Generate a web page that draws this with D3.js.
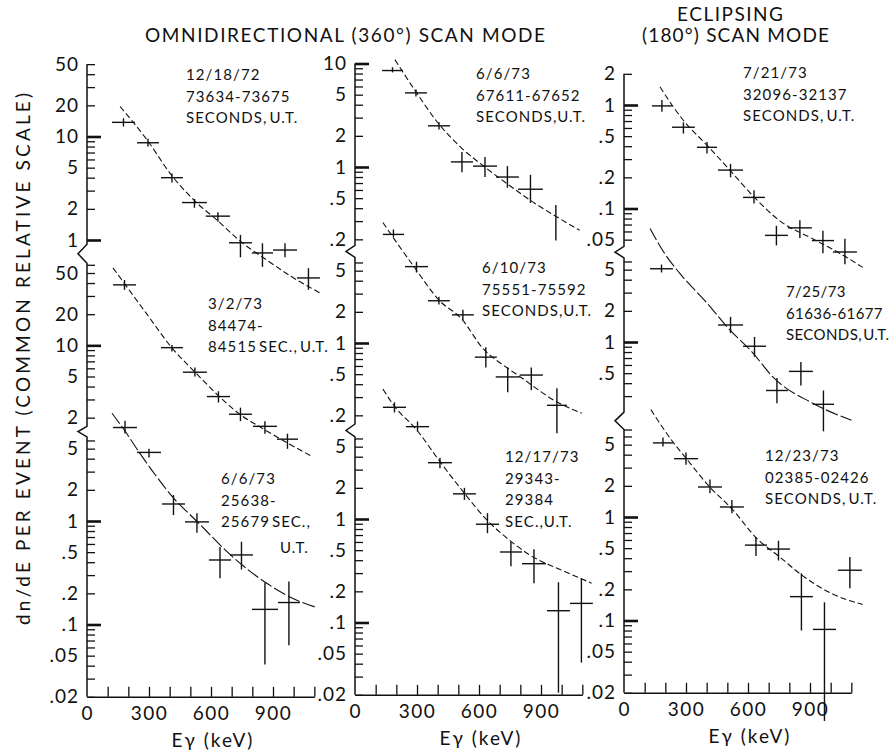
<!DOCTYPE html>
<html>
<head>
<meta charset="utf-8">
<script src="https://cdn.jsdelivr.net/npm/d3@7"></script>
<style>
  body { margin: 0; background: #fff; }
  text { font-family: Lato, "DejaVu Sans", sans-serif; font-weight: 400; fill: #111; }
</style>
</head>
<body>
<svg id="chart"></svg>
<script>
// energy in keV, dn/dE in common relative units
// point: [E low, E high, value, error low, error high]
const pts_121872 = [
  [121, 232, 13.7, 12.5, 15], [242, 348, 8.7, 8.0, 9.5], [358, 464, 4.0, 3.6, 4.4],
  [460, 580, 2.3, 2.05, 2.5], [575, 692, 1.7, 1.5, 1.85], [687, 798, 0.94, 0.68, 1.12],
  [798, 900, 0.75, 0.55, 0.93], [900, 1016, 0.80, 0.68, 0.93], [1016, 1127, 0.43, 0.33, 0.535]
];
const fit_121872 = [[160, 19.5], [290, 9.3], [410, 4.2], [520, 2.4], [630, 1.55], [740, 0.98], [870, 0.64], [1000, 0.43], [1125, 0.31]];

const pts_030273 = [
  [126, 237, 38.4, 34.4, 42.8], [358, 464, 9.5, 8.7, 10.1], [464, 580, 5.5, 5.0, 6.1],
  [580, 692, 3.2, 2.8, 3.6], [687, 798, 2.16, 1.85, 2.5], [803, 919, 1.65, 1.4, 1.85],
  [919, 1021, 1.24, 1.0, 1.4]
];
const fit_030273 = [[126, 56], [290, 20], [410, 9.5], [527, 5.4], [633, 3.3], [734, 2.2], [855, 1.55], [966, 1.15], [1087, 0.85]];

const pts_060673a = [
  [126, 242, 8.0, 7.0, 9.3], [242, 358, 4.6, 4.1, 5.0], [363, 474, 1.46, 1.14, 1.78],
  [474, 590, 0.98, 0.77, 1.19], [590, 697, 0.42, 0.28, 0.56], [692, 803, 0.47, 0.34, 0.63],
  [798, 924, 0.14, 0.041, 0.253], [924, 1030, 0.163, 0.063, 0.26]
];
const fit_060673a = [[121, 11], [184, 7.4], [256, 4.5], [330, 2.8], [415, 1.7], [530, 1.0], [705, 0.45], [870, 0.25], [1029, 0.167], [1111, 0.146]];

const pts_060673b = [
  [131, 232, 8.55, 8.2, 9.2], [242, 348, 5.2, 4.8, 5.6], [353, 460, 2.5, 2.3, 2.7],
  [464, 571, 1.12, 0.89, 1.4], [571, 687, 1.02, 0.80, 1.25], [682, 793, 0.80, 0.63, 1.02],
  [789, 909, 0.61, 0.45, 0.84], [972, 972, 0.305, 0.195, 0.43]
];
const fit_060673b = [[193, 10.9], [290, 5.5], [406, 2.6], [512, 1.55], [628, 1.0], [740, 0.68], [860, 0.46], [976, 0.33], [1087, 0.245]];

const pts_061073 = [
  [135, 237, 11.2, 10.6, 12.5], [242, 353, 5.47, 4.8, 6.1], [353, 459, 2.56, 2.35, 2.8],
  [469, 575, 1.87, 1.67, 2.1], [580, 686, 0.73, 0.58, 0.91], [681, 797, 0.47, 0.335, 0.58],
  [797, 909, 0.49, 0.35, 0.58], [929, 1025, 0.25, 0.134, 0.366]
];
const fit_061073 = [[135, 14.6], [184, 10.5], [290, 5.3], [406, 2.6], [517, 1.7], [618, 0.89], [734, 0.58], [800, 0.47], [976, 0.27], [1097, 0.21]];

const pts_121773 = [
  [135, 247, 12.0, 10.7, 13.4], [247, 358, 7.8, 7.0, 8.75], [353, 469, 3.5, 3.1, 3.9],
  [474, 585, 1.75, 1.53, 2.0], [585, 697, 0.89, 0.73, 1.14], [701, 808, 0.48, 0.35, 0.60],
  [808, 924, 0.37, 0.24, 0.51], [929, 1040, 0.13, 0.021, 0.245], [1040, 1151, 0.153, 0.041, 0.267]
];
const fit_121773 = [[135, 18], [188, 12.5], [300, 7.2], [406, 3.7], [522, 1.85], [638, 0.98], [745, 0.63], [845, 0.45], [1000, 0.32], [1145, 0.24]];

const pts_072173 = [
  [135, 232, 0.98, 0.86, 1.12], [232, 343, 0.61, 0.53, 0.68], [353, 450, 0.39, 0.34, 0.44],
  [455, 576, 0.235, 0.2, 0.27], [576, 682, 0.128, 0.112, 0.15], [682, 793, 0.055, 0.044, 0.068],
  [793, 909, 0.065, 0.052, 0.077], [909, 1016, 0.049, 0.037, 0.061], [1011, 1127, 0.038, 0.029, 0.051]
];
const fit_072173 = [[174, 1.5], [240, 0.95], [285, 0.72], [406, 0.4], [512, 0.235], [628, 0.13], [754, 0.076], [913, 0.051], [1043, 0.037], [1155, 0.027]];

const pts_072573 = [
  [126, 237, 5.1, 4.7, 5.6], [455, 576, 1.46, 1.22, 1.75], [576, 687, 0.91, 0.72, 1.12],
  [687, 793, 0.34, 0.256, 0.45], [798, 914, 0.52, 0.38, 0.64], [914, 1016, 0.25, 0.137, 0.34]
];
const fit_072573 = [[126, 12.5], [200, 7.0], [270, 4.6], [400, 2.4], [512, 1.31], [620, 0.8], [720, 0.46], [913, 0.256], [1101, 0.175]];

const pts_122373 = [
  [140, 237, 5.2, 4.8, 5.85], [242, 358, 3.66, 3.2, 4.2], [358, 474, 1.95, 1.7, 2.3],
  [464, 580, 1.25, 1.09, 1.46], [585, 692, 0.535, 0.42, 0.64], [692, 803, 0.49, 0.38, 0.59],
  [803, 914, 0.17, 0.08, 0.286], [914, 1026, 0.082, 0.0107, 0.15], [1035, 1151, 0.306, 0.205, 0.41]
];
const fit_122373 = [[130, 10.9], [237, 5.3], [300, 3.7], [415, 1.95], [522, 1.2], [643, 0.62], [754, 0.41], [865, 0.27], [1010, 0.18], [1155, 0.143]];

// labels
const notes_121872 = ["12/18/72", "73634-73675", "SECONDS, U.T."];
const notes_030273 = ["3/2/73", "84474-", "84515 SEC., U.T."];
const notes_060673a = ["6/6/73", "25638-", "25679  SEC.,", "U.T."];
const notes_060673b = ["6/6/73", "67611-67652", "SECONDS,U.T."];
const notes_061073 = ["6/10/73", "75551-75592", "SECONDS,U.T."];
const notes_121773 = ["12/17/73", "29343-", "29384", "SEC.,U.T."];
const notes_072173 = ["7/21/73", "32096-32137", "SECONDS, U.T."];
const notes_072573 = ["7/25/73", "61636-61677", "SECONDS, U.T."];
const notes_122373 = ["12/23/73", "02385-02426", "SECONDS, U.T."];

const energyTicks = d3.range(0, 1101, 100);
const energyLabels = [0, 300, 600, 900];
const energyMax = 1100;

const W = 894, H = 755;
const DEC = 103.5;          // px per decade
const PX_PER_KEV = 62 / 300;

// axis extents (lo, hi) per panel, anchored by a reference tick
const columns = [
  { x0: 87, panels: [
    { ref: 1, refY: 240, lo: 0.91, hi: 50, pts: pts_121872, fit: fit_121872, notes: notes_121872, nx: 186, ny: 80 },
    { ref: 50, refY: 273, lo: 1.65, hi: 62, pts: pts_030273, fit: fit_030273, notes: notes_030273, nx: 208, ny: 309 },
    { ref: 1, refY: 521, lo: 0.02, hi: 6.5, pts: pts_060673a, fit: fit_060673a, notes: notes_060673a, nx: 221, ny: 484, dash: "13,3" }
  ]},
  { x0: 355, panels: [
    { ref: 1, refY: 167, lo: 0.175, hi: 10, pts: pts_060673b, fit: fit_060673b, notes: notes_060673b, nx: 476, ny: 79 },
    { ref: 1, refY: 343, lo: 0.165, hi: 6.7, pts: pts_061073, fit: fit_061073, notes: notes_061073, nx: 482, ny: 273 },
    { ref: 1, refY: 519, lo: 0.02, hi: 6.2, pts: pts_121773, fit: fit_121773, notes: notes_121773, nx: 505, ny: 462 }
  ]},
  { x0: 624, panels: [
    { ref: 1, refY: 105, lo: 0.043, hi: 2, pts: pts_072173, fit: fit_072173, notes: notes_072173, nx: 743, ny: 78 },
    { ref: 1, refY: 342, lo: 0.21, hi: 6.5, pts: pts_072573, fit: fit_072573, notes: notes_072573, nx: 786, ny: 297, ls: 0.4, dash: "13,3" },
    { ref: 1, refY: 517, lo: 0.02, hi: 7, pts: pts_122373, fit: fit_122373, notes: notes_122373, nx: 765, ny: 461 }
  ]}
];

const svg = d3.select("#chart").attr("width", W).attr("height", H);
svg.append("rect").attr("width", W).attr("height", H).attr("fill", "#fff");

function logTicks(lo, hi) {
  const out = [];
  for (let n = Math.floor(Math.log10(lo)); n <= Math.ceil(Math.log10(hi)); n++) {
    for (let k = 1; k <= 9; k++) {
      const v = +(k * Math.pow(10, n)).toPrecision(6);
      if (v >= lo && v <= hi) out.push(v);
    }
  }
  return out;
}
function lead(v) {
  return +(v / Math.pow(10, Math.floor(Math.log10(v) + 1e-9))).toFixed(3);
}
function fmt(v) {
  const k = lead(v);
  if (k !== 1 && k !== 2 && k !== 5) return "";
  return v >= 1 ? String(v) : String(v).replace(/^0/, "");
}

columns.forEach(col => {
  const x = d3.scaleLinear().domain([0, energyMax]).range([col.x0, col.x0 + energyMax * PX_PER_KEV]);
  const ys = col.panels.map(p => d3.scaleLog()
    .domain([p.lo, p.hi])
    .range([p.refY + DEC * Math.log10(p.ref / p.lo), p.refY - DEC * Math.log10(p.hi / p.ref)]));

  const g = svg.append("g");

  // y axis line with breaks
  const path = d3.path();
  let prevB;
  ys.forEach((y, i) => {
    const [b, t] = y.range();
    if (i === 0) path.moveTo(col.x0, t);
    else {
      path.lineTo(col.x0 - 9, (prevB + t) / 2);
      path.lineTo(col.x0, t);
    }
    path.lineTo(col.x0, b);
    prevB = b;
  });
  g.append("path").attr("d", path.toString())
    .attr("fill", "none").attr("stroke", "#111").attr("stroke-width", 1.5);

  // y ticks per panel
  col.panels.forEach((p, pi) => {
    const y = ys[pi];
    const ax = g.append("g")
      .attr("transform", `translate(${col.x0},0)`)
      .call(d3.axisLeft(y).tickValues(logTicks(p.lo, p.hi)).tickFormat(fmt)
        .tickSizeInner(-8).tickSizeOuter(0).tickPadding(8));
    ax.select(".domain").remove();
    ax.selectAll(".tick line")
      .attr("stroke", "#111")
      .attr("stroke-width", d => lead(d) === 1 ? 2.6 : 1.3)
      .attr("x2", d => lead(d) === 1 ? 14 : 8);
    ax.selectAll(".tick text")
      .attr("font-size", 19).attr("letter-spacing", 1)
      .attr("font-family", null).attr("fill", "#111");
  });

  // x axis
  const yBottom = ys[2].range()[0];
  const xa = g.append("g")
    .attr("transform", `translate(0,${yBottom})`)
    .call(d3.axisBottom(x).tickValues(energyTicks.filter(d => d > 0))
      .tickFormat(d => energyLabels.includes(d) ? d : "")
      .tickSizeInner(-10).tickSizeOuter(0).tickPadding(10));
  xa.select(".domain").attr("stroke", "#111").attr("stroke-width", 1.5);
  xa.selectAll(".tick line").attr("stroke", "#111").attr("stroke-width", 1.3);
  xa.selectAll(".tick text")
    .attr("font-size", 19).attr("letter-spacing", 1.5)
    .attr("font-family", null).attr("fill", "#111");
  xa.append("text").attr("x", x(0)).attr("y", 10).attr("dy", "0.71em")
    .attr("text-anchor", "middle").attr("font-size", 19).text("0");

  g.append("text")
    .attr("x", x(600) + 2).attr("y", yBottom + 50)
    .attr("text-anchor", "middle").attr("font-size", 19).attr("letter-spacing", 2)
    .text("Eγ (keV)");

  // data
  col.panels.forEach((p, pi) => {
    const y = ys[pi];
    const line = d3.line().x(d => x(d[0])).y(d => y(d[1])).curve(d3.curveMonotoneX);
    g.append("path").datum(p.fit).attr("d", line)
      .attr("fill", "none").attr("stroke", "#111").attr("stroke-width", 1.1)
      .attr("stroke-dasharray", p.dash || "6,3");

    const pts = g.append("g").attr("stroke", "#111").attr("stroke-width", 1.4);
    pts.selectAll("line.h").data(p.pts.filter(d => d[1] > d[0])).join("line").attr("class", "h")
      .attr("x1", d => x(d[0])).attr("x2", d => x(d[1]))
      .attr("y1", d => y(d[2])).attr("y2", d => y(d[2]));
    pts.selectAll("line.v").data(p.pts).join("line").attr("class", "v")
      .attr("x1", d => x((d[0] + d[1]) / 2)).attr("x2", d => x((d[0] + d[1]) / 2))
      .attr("y1", d => y(d[3])).attr("y2", d => y(d[4]));

    const t = g.append("g").attr("font-size", 15)
      .attr("letter-spacing", p.ls != null ? p.ls : 1.1).attr("word-spacing", -3);
    p.notes.forEach((s, i) => {
      const isUT = s === "U.T.";
      t.append("text")
        .attr("x", isUT ? p.nx + 59 : p.nx)
        .attr("y", p.ny + i * (isUT ? 23 : 21.5))
        .text(s);
    });
  });
});

// titles
svg.append("text").attr("x", 145).attr("y", 42).attr("font-size", 19)
  .attr("textLength", 400).attr("lengthAdjust", "spacing")
  .text("OMNIDIRECTIONAL (360°) SCAN MODE");
svg.append("text").attr("x", 677).attr("y", 21).attr("font-size", 19)
  .attr("textLength", 106).attr("lengthAdjust", "spacing").text("ECLIPSING");
svg.append("text").attr("x", 642).attr("y", 42).attr("font-size", 19)
  .attr("textLength", 187).attr("lengthAdjust", "spacing").text("(180°) SCAN MODE");

svg.append("text")
  .attr("transform", "translate(30,625) rotate(-90)")
  .attr("font-size", 19).attr("textLength", 532).attr("lengthAdjust", "spacing")
  .text("dn/dE  PER EVENT (COMMON RELATIVE SCALE)");
</script>
</body>
</html>
